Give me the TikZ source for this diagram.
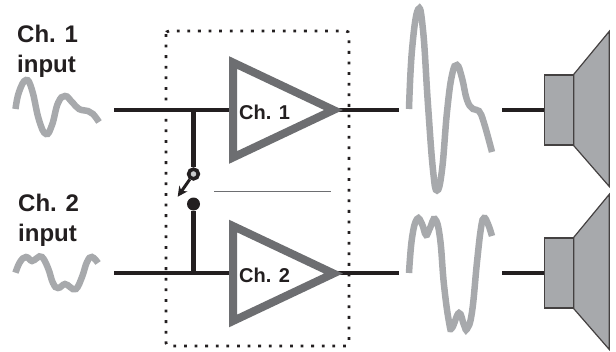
\documentclass[tikz,border=0pt]{standalone}
\usepackage{fontspec}
\usepackage{tikz}
\usetikzlibrary{positioning,arrows.meta,calc}
\setmainfont{Liberation Sans}
\definecolor{ink}{HTML}{231F20}
\definecolor{ampgray}{HTML}{6D6E71}
\definecolor{wavegray}{HTML}{A7A9AC}
\begin{document}
\begin{tikzpicture}[x=1pt,y=-1pt,
    every node/.style={text=ink, inner sep=0pt},
    chlabel/.style={font=\fontsize{24}{30}\selectfont\bfseries, align=left, anchor=base west},
    amplabel/.style={font=\fontsize{20}{24}\selectfont\bfseries, anchor=base west},
    wire/.style={draw=ink, line width=4.2pt},
    amp/.style={draw=ampgray, line width=8pt, miter limit=10, fill=white},
    wave/.style={draw=wavegray, line width=6.5pt, smooth, tension=0.75},
    cone/.style={draw=ink!85, fill=wavegray, line width=1.2pt, line join=miter},
    spkbox/.style={draw=ink!85, fill=wavegray, line width=1.2pt, minimum width=28.5pt, minimum height=70pt, anchor=west},
    contact/.style={circle, fill=ink, minimum size=13pt}
  ]
    \useasboundingbox (0,0) rectangle (616,351);
    % stage box and the divider
    \draw[draw=ink, line width=2.8pt, dash pattern=on 2.8pt off 7.8pt, rounded corners=3pt] (166,31) rectangle (349,346);
    \coordinate (divl) at (214,191.8);
    \coordinate (divr) at (331,191.8);
    \draw[draw=ampgray, line width=1.2pt] (divl) -- (divr);
    % wire ends
    \coordinate (in1) at (114,110);
    \coordinate (in2) at (114,273);
    \coordinate (out1) at (399,110);
    \coordinate (out2) at (399,273);
    \coordinate (tap1) at (193.5,110);
    \coordinate (tap2) at (193.5,273);
    \coordinate (drv1) at (502,110);
    \coordinate (drv2) at (502,273);
    \coordinate (amp1in) at (230,110);
    \coordinate (amp2in) at (230,273);
    \coordinate (amp1out) at (336,110);
    \coordinate (amp2out) at (336,273);
    \coordinate (throw) at (177.7,196.7);
    % speakers
    \node[spkbox] (spk1) at (544,110) {};
    \node[spkbox] (spk2) at (544,273) {};
    \draw[cone] (spk1.north east) -- ++(35.5,-43) -- ++(0,155) -- (spk1.south east) -- cycle;
    \draw[cone] (spk2.north east) -- ++(35.5,-43) -- ++(0,155) -- (spk2.south east) -- cycle;
    % wires
    \draw[wire] (in1) -- (amp1in);
    \draw[wire] (in2) -- (amp2in);
    \draw[wire] (amp1out) -- (out1);
    \draw[wire] (amp2out) -- (out2);
    \draw[wire] (drv1) -- (spk1.west);
    \draw[wire] (drv2) -- (spk2.west);
    % amplifiers
    \draw[amp] (233,62.5) -- (333.5,110) -- (233,157.5) -- cycle;
    \draw[amp] (233,226) -- (333.5,273.5) -- (233,321) -- cycle;
    % switch
    \node[circle, draw=ink, line width=3.6pt, fill=wavegray!60, minimum size=9.7pt] (open) at (193.5,174) {};
    \node[contact] (shut) at (193.5,204) {};
    \draw[wire] (tap1) -- (open);
    \draw[wire] (tap2) -- (shut);
    \draw[draw=ink, line width=3pt, -{Stealth[length=10pt,width=10pt]}] (open) -- (throw);
    % waves
    \draw[wave] plot coordinates {(15.5,109) (19,92) (26,80) (32,90) (39,120) (46,134) (52,125) (58,103) (65,96) (72,102) (79,109) (88,111) (93,114) (99,122)};
    \draw[wave] plot coordinates {(15.5,272.7) (20,262) (26,257) (32,261) (37,258) (42,257) (48,268) (53,283) (58,288) (65,284) (70,287) (76,289) (82,277) (87,262) (92,257) (98,263)};
    \draw[wave] plot coordinates {(409,109) (412,50) (418,9.5) (423,30) (428,105) (433,170) (437,190.5) (442,170) (447,112) (452,75) (457,65) (462,78) (467,100) (473,109) (479,111) (484,123) (492,152)};
    \draw[wave] plot coordinates {(409,273) (412,238) (417,219) (422,224) (426,235) (430,228) (435,219) (440,238) (444,285) (449,322) (452,328) (459,313) (464,325) (467,329) (472,312) (477,262) (481,228) (484,218) (488,224) (492,236)};
    % labels
    \node[chlabel] (lab1) at (17,72.7) {Ch. 1\\input};
    \node[chlabel] (lab2) at (18,241) {Ch. 2\\input};
    \node[amplabel] (amp1lab) at (239,119) {Ch. 1};
    \node[amplabel] (amp2lab) at (239,282.7) {Ch. 2};
  \end{tikzpicture}
\end{document}
